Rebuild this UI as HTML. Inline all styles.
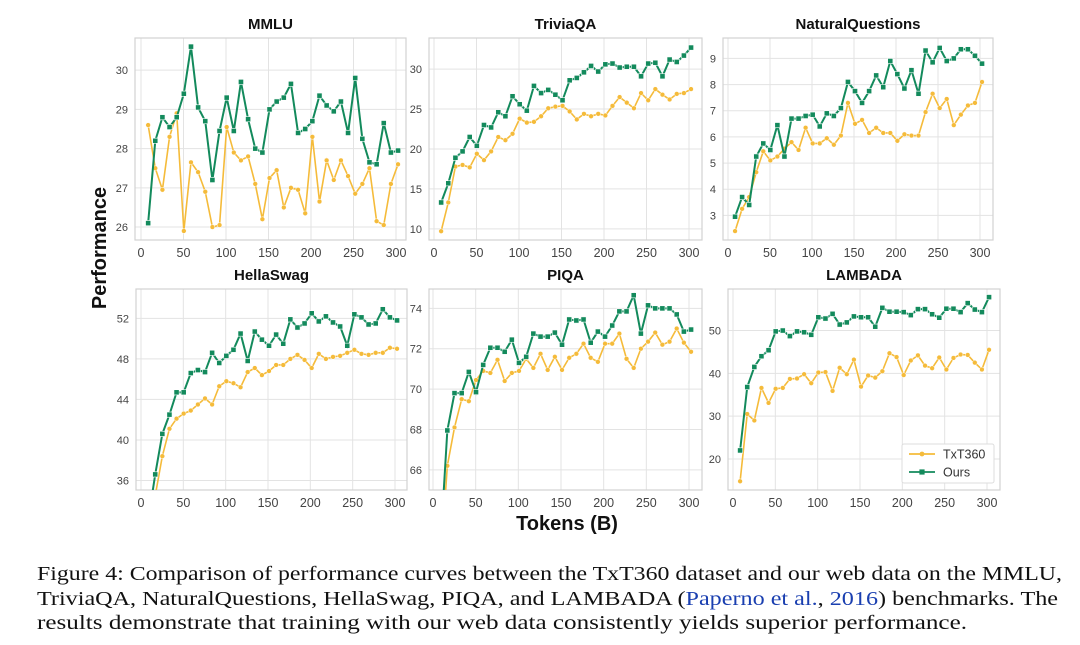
<!DOCTYPE html>
<html><head><meta charset="utf-8">
<style>
body{margin:0;background:#fff;width:1080px;height:645px;overflow:hidden;font-family:"Liberation Sans",sans-serif;}
#cap{position:absolute;left:37px;top:562px;width:1040px;font-family:"Liberation Serif",serif;font-size:20px;line-height:24.5px;color:#111;}
#cap .ln{white-space:nowrap;transform-origin:0 0;display:block;width:max-content;}
#cap a{color:#1a3fb0;text-decoration:none;}
</style></head><body>
<svg id="fig" width="1080" height="560" style="position:absolute;left:0;top:0" xmlns="http://www.w3.org/2000/svg"></svg>
<div id="cap">
<span class="ln" data-w="1025">Figure 4: Comparison of performance curves between the TxT360 dataset and our web data on the MMLU,</span>
<span class="ln" data-w="1021">TriviaQA, NaturalQuestions, HellaSwag, PIQA, and LAMBADA (<a>Paperno et al.</a>, <a>2016</a>) benchmarks. The</span>
<span class="ln" data-w="930">results demonstrate that training with our web data consistently yields superior performance.</span>
</div>
<script>
const tokens = Array.from({length:36},(_,i)=>8.4*(i+1));
const xTicks = [0,50,100,150,200,250,300];
const seriesNames = ["TxT360","Ours"];
const mmluTxt = [28.6,27.5,26.95,28.3,28.9,25.9,27.65,27.4,26.9,26.0,26.05,28.55,27.9,27.7,27.8,27.1,26.2,27.25,27.45,26.5,27.0,26.95,26.35,28.3,26.65,27.7,27.2,27.7,27.3,26.85,27.1,27.5,26.15,26.05,27.1,27.6];
const mmluOurs = [26.1,28.2,28.8,28.55,28.8,29.4,30.6,29.05,28.7,27.2,28.45,29.3,28.45,29.7,28.75,28.0,27.9,29.0,29.2,29.3,29.65,28.4,28.5,28.7,29.35,29.1,28.95,29.2,28.4,29.8,28.25,27.65,27.6,28.65,27.9,27.95];
const triviaTxt = [9.7,13.3,17.8,18.0,17.7,19.4,18.6,19.7,21.5,21.1,21.9,23.8,23.3,23.4,24.1,25.1,25.3,25.4,24.7,23.7,24.4,24.1,24.4,24.2,25.4,26.5,25.8,25.1,27.0,26.1,27.5,26.8,26.2,26.9,27.0,27.5];
const triviaOurs = [13.3,15.7,18.9,19.7,21.5,20.4,23.0,22.7,24.6,24.1,26.6,25.6,24.8,27.9,27.0,27.4,26.8,26.1,28.6,28.9,29.6,30.4,29.7,30.6,30.7,30.2,30.3,30.3,29.1,30.7,30.8,29.1,31.2,30.9,31.7,32.7];
const nqTxt = [2.4,3.25,3.7,4.65,5.45,5.1,5.25,5.55,5.8,5.5,6.35,5.75,5.75,5.95,5.7,6.05,7.3,6.5,6.65,6.15,6.35,6.15,6.15,5.85,6.1,6.05,6.05,6.95,7.65,7.1,7.45,6.45,6.85,7.2,7.3,8.1];
const nqOurs = [2.95,3.7,3.4,5.25,5.75,5.5,6.45,5.25,6.7,6.7,6.8,6.85,6.4,6.9,6.8,7.1,8.1,7.75,7.3,7.75,8.35,7.9,8.9,8.4,7.85,8.55,7.65,9.3,8.85,9.4,8.9,9.0,9.35,9.35,9.1,8.8];
const hsTxt = [30,34.5,38.4,41.1,42.1,42.6,42.9,43.5,44.1,43.5,45.3,45.8,45.6,45.2,46.7,47.1,46.4,46.8,47.4,47.4,48.0,48.4,47.9,47.1,48.5,48.0,48.2,48.3,48.6,48.9,48.5,48.4,48.6,48.6,49.1,49.0];
const hsOurs = [32,36.6,40.6,42.5,44.7,44.7,46.6,46.9,46.7,48.6,47.6,48.3,48.9,50.5,47.8,50.7,49.9,49.3,50.4,49.5,51.9,51.1,51.5,52.5,51.7,52.2,51.6,51.2,49.3,52.4,52.1,51.4,51.5,52.9,52.1,51.8];
const piqaTxt = [61,66.2,68.1,69.5,69.4,70.45,70.9,70.8,71.45,70.4,70.8,70.9,71.5,71.05,71.75,70.95,71.6,70.95,71.55,71.75,72.25,71.55,71.35,72.25,72.25,72.75,71.5,71.05,72.0,72.35,72.8,72.2,72.35,73.0,72.3,71.85];
const piqaOurs = [62,67.95,69.8,69.8,70.85,69.85,71.2,72.05,72.05,71.85,72.45,71.3,71.6,72.75,72.6,72.6,72.8,72.2,73.45,73.4,73.45,72.3,72.85,72.6,73.15,73.85,73.85,74.65,72.75,74.15,74.0,74.0,74.0,73.7,72.85,72.95];
const lamTxt = [14.8,30.5,29.0,36.6,33.1,36.4,36.6,38.7,38.8,39.8,37.7,40.2,40.3,35.9,41.3,39.8,43.2,36.9,39.5,39.0,40.5,44.7,43.8,39.6,43.0,44.2,41.8,41.2,43.7,40.9,43.6,44.4,44.3,42.5,40.9,45.5];
const lamOurs = [22,36.8,41.5,44.0,45.4,49.8,50.0,48.7,49.8,49.6,49.0,53.1,52.8,53.9,51.4,51.9,53.3,53.1,53.1,50.9,55.3,54.4,54.4,54.3,53.6,55.0,55.0,53.8,53.0,55.1,55.1,54.3,56.4,54.9,54.3,57.8];
const mmluTicks=[26,27,28,29,30], triviaTicks=[10,15,20,25,30], nqTicks=[3,4,5,6,7,8,9], hsTicks=[36,40,44,48,52], piqaTicks=[66,68,70,72,74], lamTicks=[20,30,40,50];

const panels=[
 {title:"MMLU",name:"mmlu",L:135,R:406,T:38,B:240,x0:141,x1:396,ymin:25.67,ymax:30.82,yt:mmluTicks,a:mmluTxt,b:mmluOurs},
 {title:"TriviaQA",name:"triviaqa",L:429,R:702,T:38,B:240,x0:434,x1:689,ymin:8.6,ymax:33.9,yt:triviaTicks,a:triviaTxt,b:triviaOurs},
 {title:"NaturalQuestions",name:"naturalquestions",L:723,R:993,T:38,B:240,x0:728,x1:980,ymin:2.06,ymax:9.78,yt:nqTicks,a:nqTxt,b:nqOurs},
 {title:"HellaSwag",name:"hellaswag",L:136,R:407,T:289,B:490,x0:141,x1:395,ymin:35.06,ymax:54.9,yt:hsTicks,a:hsTxt,b:hsOurs},
 {title:"PIQA",name:"piqa",L:429,R:702,T:289,B:490,x0:433,x1:689,ymin:65.0,ymax:74.96,yt:piqaTicks,a:piqaTxt,b:piqaOurs},
 {title:"LAMBADA",name:"lambada",L:728,R:1000,T:289,B:490,x0:733,x1:987,ymin:12.76,ymax:59.7,yt:lamTicks,a:lamTxt,b:lamOurs,legend:true}
];
const NS="http://www.w3.org/2000/svg";
const svg=document.getElementById('fig');
function mk(tag,attrs,parent){const e=document.createElementNS(NS,tag);for(const k in attrs)e.setAttribute(k,attrs[k]);(parent||svg).appendChild(e);return e;}
const YEL="#f5bb3a", GRN="#138a5c";
panels.forEach((p,pi)=>{
 const g=mk('g',{});
 
 
 const sx=v=>p.x0+(v/300)*(p.x1-p.x0);
 const sy=v=>p.B-(v-p.ymin)/(p.ymax-p.ymin)*(p.B-p.T);
 const cid='clip'+pi;
 const cp=mk('clipPath',{id:cid},g); mk('rect',{x:p.L,y:p.T,width:p.R-p.L,height:p.B-p.T},cp);
 xTicks.forEach(t=>{
  const l=mk('line',{x1:sx(t),x2:sx(t),y1:p.T,y2:p.B,stroke:"#e3e3e3","stroke-width":1},g);
  
  
  const tx=mk('text',{x:sx(t),y:p.B+17,"text-anchor":"middle","font-size":12.5,fill:"#444"},g);
  tx.textContent=t;
  
  
 });
 p.yt.forEach(t=>{
  const l=mk('line',{x1:p.L,x2:p.R,y1:sy(t),y2:sy(t),stroke:"#e3e3e3","stroke-width":1},g);
  
  
  const tx=mk('text',{x:p.L-7,y:sy(t)+4,"text-anchor":"end","font-size":11,fill:"#444"},g);
  tx.textContent=t;
  
  
 });
 const fr=mk('rect',{x:p.L,y:p.T,width:p.R-p.L,height:p.B-p.T,fill:"none",stroke:"#d2d2d2","stroke-width":1.2},g);
 
 
 const ti=mk('text',{x:(p.L+p.R)/2,y:p.T-9,"text-anchor":"middle","font-size":15,"font-weight":"bold",fill:"#111"},g);
 ti.textContent=p.title;
 
 
 [[p.a,YEL,'txt360'],[p.b,GRN,'ours']].forEach(([arr,col,nm])=>{
  const sg=mk('g',{"clip-path":`url(#${cid})`},g);
  
  
  const pts=arr.map((v,i)=>sx(tokens[i])+','+sy(v)).join(' ');
  const pl=mk('polyline',{points:pts,fill:"none",stroke:col,"stroke-width":nm==='ours'?2:1.6},sg);
  
  
  arr.forEach((v,i)=>{
   let m;
   if(nm==='ours') m=mk('rect',{x:sx(tokens[i])-2.6,y:sy(v)-2.6,width:5.2,height:5.2,fill:col,stroke:"#fff","stroke-width":0.6},sg);
   else m=mk('circle',{cx:sx(tokens[i]),cy:sy(v),r:2.4,fill:col,stroke:"#fff","stroke-width":0.5},sg);
   
   
  });
 });
 if(p.legend){
  const lg=mk('g',{},g);
  
  
  mk('rect',{x:902,y:444,width:92,height:39,fill:"#fff",stroke:"#ddd","stroke-width":1,rx:2},lg);
  [[YEL,seriesNames[0],454,'c'],[GRN,seriesNames[1],472,'s']].forEach(([c,t,y,s])=>{
   const e=mk('g',{},lg);
   
   
   mk('line',{x1:909,x2:935,y1:y,y2:y,stroke:c,"stroke-width":1.8},e);
   if(s==='c')mk('circle',{cx:922,cy:y,r:2.4,fill:c},e);else mk('rect',{x:919.4,y:y-2.6,width:5.2,height:5.2,fill:c},e);
   const tt=mk('text',{x:943,y:y+4.5,"font-size":12.5,fill:"#333"},e);tt.textContent=t;
  });
 }
});
const yl=mk('text',{x:106,y:248,"text-anchor":"middle","font-size":20,"font-weight":"bold",fill:"#111",transform:"rotate(-90 106 248)"});
yl.textContent="Performance";


const xl=mk('text',{x:567,y:530,"text-anchor":"middle","font-size":20,"font-weight":"bold",fill:"#111"});
xl.textContent="Tokens (B)";


document.querySelectorAll('#cap .ln').forEach(s=>{
 const w=s.getBoundingClientRect().width;
 const t=+s.getAttribute('data-w');
 if(w>0) s.style.transform='scaleX('+(t/w)+')';
});
</script>
</body></html>
